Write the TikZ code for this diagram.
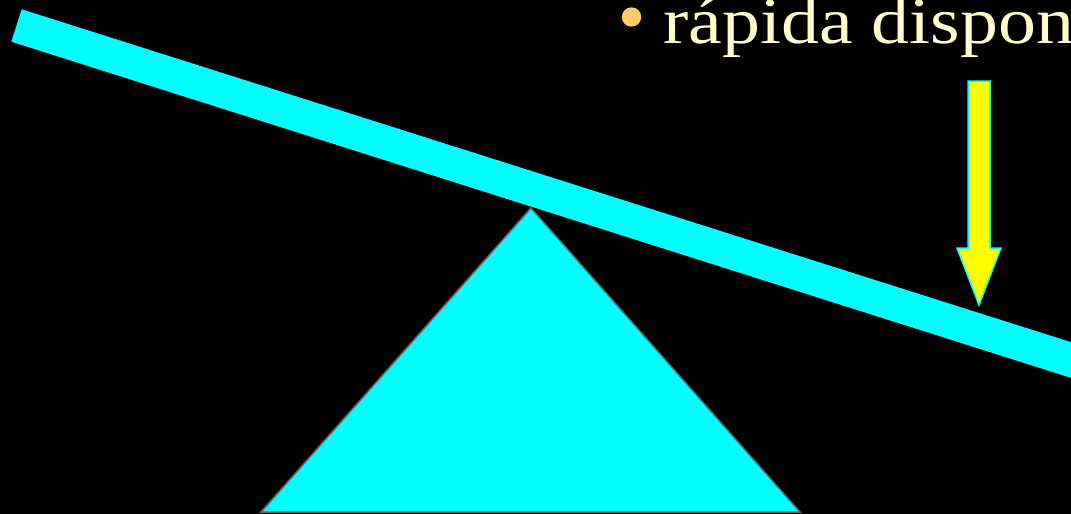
\documentclass[tikz,border=0pt]{standalone}
\usepackage{fontspec}
\setmainfont{Liberation Serif}
\definecolor{beamcyan}{RGB}{0, 255, 255}
\definecolor{arrowyellow}{RGB}{255, 255, 0}
\definecolor{textcream}{RGB}{255, 255, 204}
\definecolor{bulletorange}{RGB}{255, 204, 102}
\definecolor{edgegray}{RGB}{100, 100, 100}

\begin{document}
\begin{tikzpicture}[x=1pt, y=-1pt]

  \fill[black] (0,0) rectangle (1071,514);
  \useasboundingbox (0,0) rectangle (1071,514);
  \clip (0,0) rectangle (1071,514);

  % lever on its support
  \draw[edgegray, fill=beamcyan, line width=1.5pt] (261,512) -- (531,208) -- (800,512) -- cycle;
  \draw[beamcyan, line width=34pt] (16.5,25.5) -- ++(17.6:1300);

  % load
  \draw[beamcyan, fill=arrowyellow, line width=1.5pt]
    (968,81) -- (990,81) -- (990,248) -- (1001,248) -- (979,305)
    -- (957,248) -- (968,248) -- cycle;

  \fill[bulletorange] (631.5,17) circle (9.7);
  \node[textcream, anchor=base west, inner sep=0pt, xscale=1.15,
        font=\fontsize{66}{70}\selectfont] (item) at (663,43) {rápida disponi};

\end{tikzpicture}
\end{document}
